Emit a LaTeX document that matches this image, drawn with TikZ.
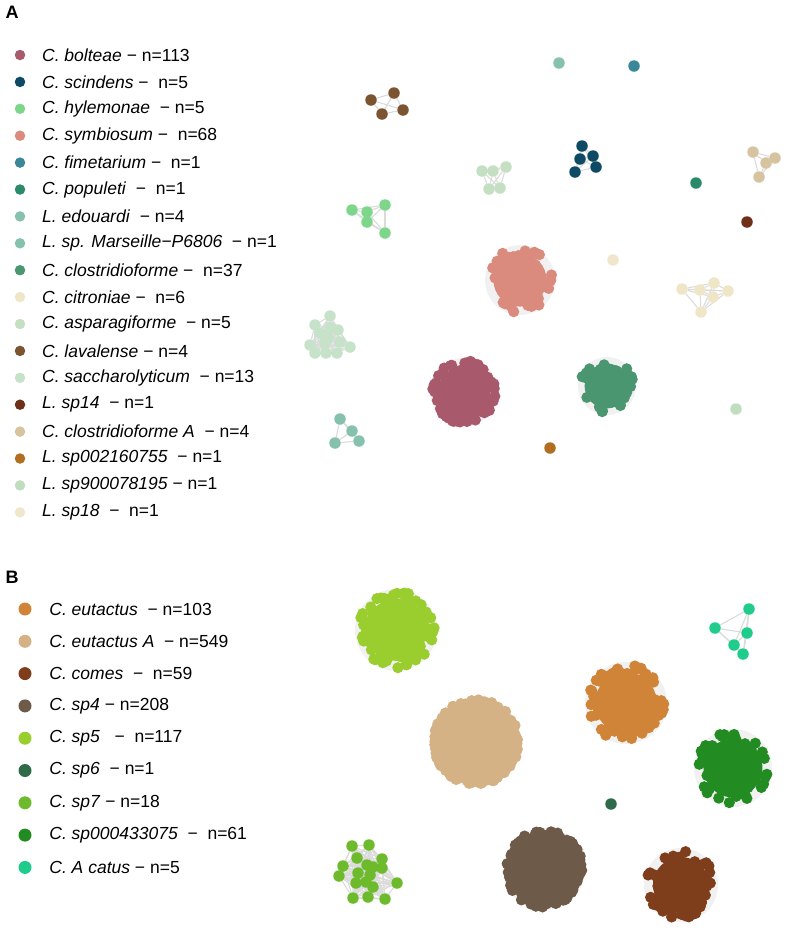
\documentclass[tikz,border=0pt]{standalone}
\usepackage{fontspec}
\setmainfont{Liberation Sans}
\usetikzlibrary{positioning,backgrounds}
% panel A colours
\definecolor{cBolteae}{RGB}{168,90,108}
\definecolor{cScindens}{RGB}{14,74,99}
\definecolor{cHylemonae}{RGB}{126,214,139}
\definecolor{cSymbiosum}{RGB}{219,138,126}
\definecolor{cFimetarium}{RGB}{58,135,151}
\definecolor{cPopuleti}{RGB}{42,138,106}
\definecolor{cEdouardi}{RGB}{134,193,174}
\definecolor{cMarseille}{RGB}{134,193,174}
\definecolor{cClostr}{RGB}{74,150,112}
\definecolor{cCitroniae}{RGB}{239,230,200}
\definecolor{cAsparag}{RGB}{196,223,194}
\definecolor{cLavalense}{RGB}{123,85,49}
\definecolor{cSacchar}{RGB}{198,226,200}
\definecolor{cSpFourteen}{RGB}{110,48,25}
\definecolor{cClostrA}{RGB}{214,195,159}
\definecolor{cSpTwoOne}{RGB}{176,110,30}
\definecolor{cSpNine}{RGB}{193,221,192}
\definecolor{cSpEighteen}{RGB}{240,230,204}
% panel B colours
\definecolor{cEutactus}{RGB}{207,132,56}
\definecolor{cEutactusA}{RGB}{212,178,134}
\definecolor{cComes}{RGB}{126,62,28}
\definecolor{cSpFour}{RGB}{110,90,72}
\definecolor{cSpFive}{RGB}{154,205,46}
\definecolor{cSpSix}{RGB}{46,107,72}
\definecolor{cSpSeven}{RGB}{109,187,44}
\definecolor{cSpForest}{RGB}{34,139,34}
\definecolor{cCatus}{RGB}{31,204,140}
\tikzset{
  legdot/.style={circle, fill=#1, minimum size=10.5pt, inner sep=0pt},
  legdotb/.style={circle, fill=#1, minimum size=13pt, inner sep=0pt},
  legtxt/.style={inner sep=0pt, font=\fontsize{17.5}{20}\selectfont},
  netdot/.style={circle, fill=#1, minimum size=11.5pt, inner sep=0pt},
  netedge/.style={line width=1.1pt, gray!28},
  panel/.style={font=\fontsize{18}{21}\selectfont\bfseries},
}
% dense cluster: colour, x, y, radius, count, seed
\newcommand{\netblob}[6]{%
  \pgfmathsetseed{#6}
  \fill[gray!11] (#2,#3) circle ({#4-3});
  \fill[#1] (#2,#3) circle ({0.7*#4});
  \foreach \k in {1,...,#5}{
    \pgfmathsetmacro\ang{360*rnd}
    \pgfmathsetmacro\rad{(#4-5.5)*rnd^0.4}
    \fill[#1, shift={(#2,#3)}] (\ang:\rad) circle (5.6);
  }
}
% all edges among nodes #1 1..#2
\newcommand{\fullmesh}[2]{%
  \foreach \a in {1,...,#2}{
    \foreach \b in {1,...,#2}{
      \ifnum\a<\b \draw[netedge] (#1\a) -- (#1\b);\fi
    }
  }
}

\begin{document}
\begin{tikzpicture}[x=1pt, y=-1pt]
  \useasboundingbox (0,0) rectangle (787,935);
  \node[panel] (pA) at (12,12) {A};
  \node[panel] (pB) at (12,577) {B};
  % legend A
  \foreach \col/\sp/\cnt [count=\i from 0] in {
      cBolteae/{C. bolteae}/{− n=113},
      cScindens/{C. scindens}/{−~ n=5},
      cHylemonae/{C. hylemonae}/{~− n=5},
      cSymbiosum/{C. symbiosum}/{−~ n=68},
      cFimetarium/{C. fimetarium}/{−~ n=1},
      cPopuleti/{C. populeti}/{~−~ n=1},
      cEdouardi/{L. edouardi}/{~− n=4},
      cMarseille/{L. sp. Marseille−P6806}/{~− n=1},
      cClostr/{C. clostridioforme}/{−~ n=37},
      cCitroniae/{C. citroniae}/{−~ n=6},
      cAsparag/{C. asparagiforme}/{~− n=5},
      cLavalense/{C. lavalense}/{− n=4},
      cSacchar/{C. saccharolyticum}/{~− n=13},
      cSpFourteen/{L. sp14}/{~− n=1},
      cClostrA/{C. clostridioforme A}/{~− n=4},
      cSpTwoOne/{L. sp002160755}/{~− n=1},
      cSpNine/{L. sp900078195}/{− n=1},
      cSpEighteen/{L. sp18}/{~−~ n=1}}{
    \node[legdot=\col] (la\i) at (20, 55+26.9*\i) {};
    \node[legtxt, right=16.5pt of la\i] {\textit{\sp}\ \cnt};
  }
  % legend B
  \foreach \col/\sp/\cnt [count=\i from 0] in {
      cEutactus/{C. eutactus}/{~− n=103},
      cEutactusA/{C. eutactus A}/{~− n=549},
      cComes/{C. comes}/{~−~ n=59},
      cSpFour/{C. sp4}/{− n=208},
      cSpFive/{C. sp5}/{~~−~ n=117},
      cSpSix/{C. sp6}/{~− n=1},
      cSpSeven/{C. sp7}/{− n=18},
      cSpForest/{C. sp000433075}/{~−~ n=61},
      cCatus/{C. A catus}/{− n=5}}{
    \node[legdotb=\col] (lb\i) at (25, 609+32.3*\i) {};
    \node[legtxt, right=17.5pt of lb\i] {\textit{\sp}\ \cnt};
  }
  % panel A dense clusters
  \netblob{cSymbiosum}{520}{280}{38}{68}{11}
  \netblob{cBolteae}{464}{392}{37}{113}{12}
  \netblob{cClostr}{607}{386}{32}{37}{13}
  % panel A small clusters
  \foreach \nm/\px/\py in {lv1/371/100, lv2/394/93, lv3/403/110, lv4/382/114}
    \node[netdot=cLavalense] (\nm) at (\px,\py) {};
  \foreach \nm/\px/\py in {sc1/582/146, sc2/580/159, sc3/593/156, sc4/596/167, sc5/575/172}
    \node[netdot=cScindens] (\nm) at (\px,\py) {};
  \foreach \nm/\px/\py in {as1/482/171, as2/493/171, as3/506/167, as4/489/189, as5/500/188}
    \node[netdot=cAsparag] (\nm) at (\px,\py) {};
  \foreach \nm/\px/\py in {hy1/352/210, hy2/367/212, hy3/367/222, hy4/385/205, hy5/385/233}
    \node[netdot=cHylemonae] (\nm) at (\px,\py) {};
  \foreach \nm/\px/\py in {ca1/753/152, ca2/775/158, ca3/766/163, ca4/759/177}
    \node[netdot=cClostrA] (\nm) at (\px,\py) {};
  \foreach \nm/\px/\py in {ct1/682/289, ct2/700/290, ct3/714/283, ct4/728/291, ct5/713/297, ct6/701/312}
    \node[netdot=cCitroniae] (\nm) at (\px,\py) {};
  \foreach \nm/\px/\py in {sa1/330/316, sa2/315/325, sa3/330/328, sa4/338/330, sa5/320/333,
      sa6/310/345, sa7/325/343, sa8/340/342, sa9/350/347, sa10/315/353, sa11/326/353,
      sa12/337/353, sa13/328/338}
    \node[netdot=cSacchar] (\nm) at (\px,\py) {};
  \foreach \nm/\px/\py in {ed1/340/419, ed2/352/431, ed3/359/441, ed4/335/443}
    \node[netdot=cEdouardi] (\nm) at (\px,\py) {};
  % panel A single nodes
  \node[netdot=cMarseille] (mars) at (559,63) {};
  \node[netdot=cFimetarium] (fime) at (634,66) {};
  \node[netdot=cPopuleti] (popu) at (696,183) {};
  \node[netdot=cSpFourteen] (spfourteen) at (747,222) {};
  \node[netdot=cSpEighteen] (speighteen) at (613,260) {};
  \node[netdot=cSpTwoOne] (sptwoone) at (550,448) {};
  \node[netdot=cSpNine] (spnine) at (736,409) {};
  % panel B dense clusters
  \netblob{cSpFive}{396}{630}{44}{117}{21}
  \netblob{cEutactus}{626}{703}{44}{103}{22}
  \netblob{cEutactusA}{476}{742}{48}{549}{23}
  \netblob{cSpForest}{733}{768}{42}{61}{24}
  \netblob{cSpFour}{544}{869}{44}{208}{25}
  \netblob{cComes}{681}{885}{40}{59}{26}
  % panel B small clusters
  \foreach \nm/\px/\py in {ac1/749/609, ac2/715/628, ac3/747/633, ac4/734/645, ac5/743/654}
    \node[netdot=cCatus] (\nm) at (\px,\py) {};
  \foreach \nm/\px/\py in {sv1/352/846, sv2/369/845, sv3/357/858, sv4/382/859, sv5/343/866,
      sv6/367/865, sv7/373/867, sv8/382/868, sv9/358/873, sv10/370/875, sv11/339/876,
      sv12/356/883, sv13/366/882, sv14/373/887, sv15/397/883, sv16/353/898, sv17/368/897,
      sv18/385/899}
    \node[netdot=cSpSeven] (\nm) at (\px,\py) {};
  \node[netdot=cSpSix] (spsix) at (611,804) {};
  % edges
  \begin{pgfonlayer}{background}
    \fullmesh{lv}{4}
    \fullmesh{sc}{5}
    \fullmesh{as}{5}
    \fullmesh{hy}{5}
    \fullmesh{ca}{4}
    \fullmesh{ct}{6}
    \fullmesh{sa}{13}
    \fullmesh{ed}{4}
    \fullmesh{ac}{5}
    \fullmesh{sv}{18}
  \end{pgfonlayer}
\end{tikzpicture}
\end{document}
